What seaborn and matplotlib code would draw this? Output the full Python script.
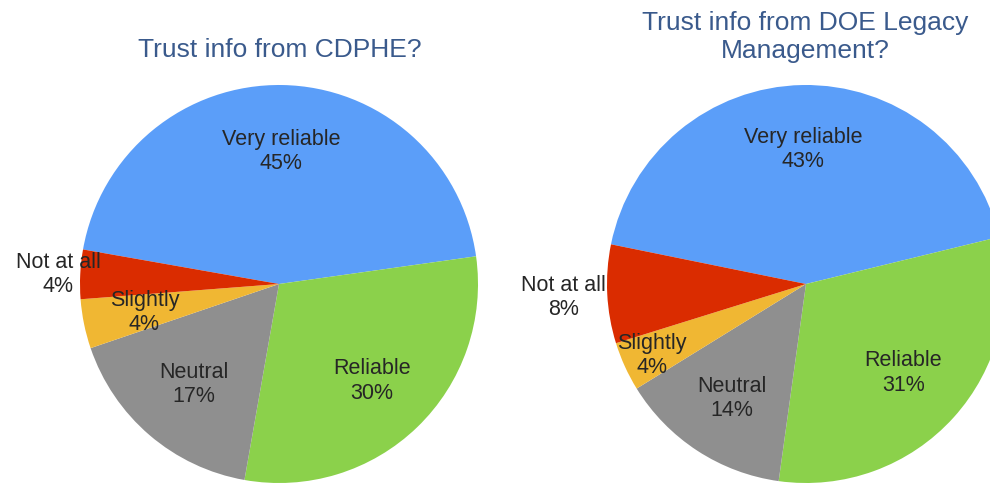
import numpy as np
import seaborn as sns
import matplotlib.pyplot as plt

# datos
categories = ["Very reliable", "Reliable", "Neutral", "Slightly", "Not at all"]
cdphe_pct = [45, 30, 17, 4, 4]
doe_pct = [43, 31, 14, 4, 8]

colors = ["#5B9EF9", "#8BD14B", "#8F8F8F", "#F0B733", "#DA2C00"]

sns.set_style("white")
plt.rcParams["font.family"] = ["Liberation Sans", "DejaVu Sans"]

fig = plt.figure(figsize=(9.9, 4.85), dpi=100)

ax1 = fig.add_axes([80 / 990, 1 / 485, 398 / 990, 398 / 485])
ax2 = fig.add_axes([607 / 990, 1 / 485, 398 / 990, 398 / 485])


def draw_pie(ax, values, start, dists):
    wedges, _ = ax.pie(values, colors=colors, startangle=start,
                       counterclock=False, radius=1.0,
                       wedgeprops=dict(linewidth=0))
    for w, cat, v, d in zip(wedges, categories, values, dists):
        ang = np.deg2rad((w.theta1 + w.theta2) / 2)
        ax.text(d * np.cos(ang), d * np.sin(ang), f"{cat}\n{v}%",
                ha="center", va="center", fontsize=15.5, color="#262626",
                linespacing=1.2)
    ax.set_xlim(-1, 1)
    ax.set_ylim(-1, 1)
    ax.set_aspect("equal")
    ax.axis("off")


draw_pie(ax1, cdphe_pct, 170, [0.67, 0.67, 0.66, 0.69, 1.11])
draw_pie(ax2, doe_pct, 168.5, [0.68, 0.66, 0.68, 0.85, 1.22])

title_color = "#3A5A8C"
fig.text(280 / 990, 1 - 50 / 485, "Trust info from CDPHE?", ha="center",
         va="center", fontsize=19, color=title_color)
fig.text(805 / 990, 1 - 37 / 485, "Trust info from DOE Legacy\nManagement?",
         ha="center", va="center", fontsize=19, color=title_color,
         linespacing=1.25)

plt.savefig("out.png", dpi=100)
